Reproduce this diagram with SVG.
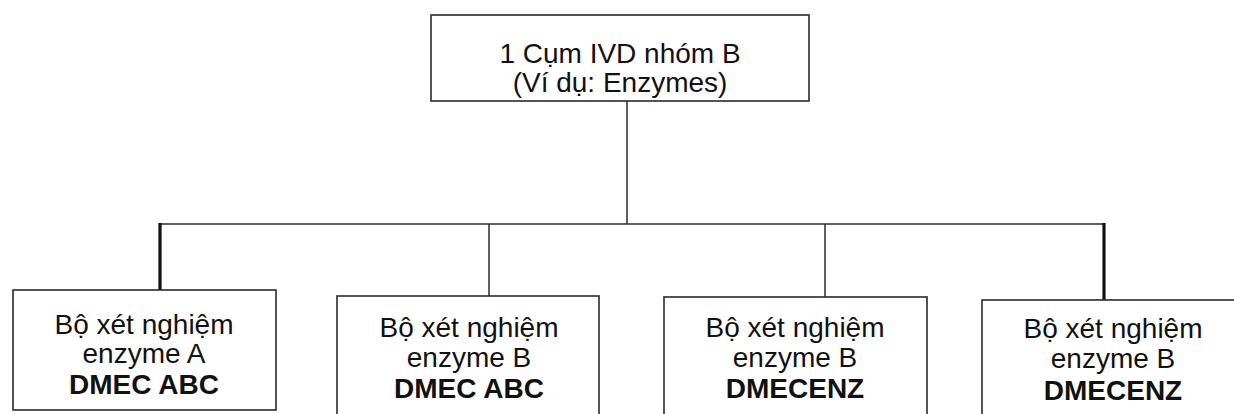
<svg xmlns="http://www.w3.org/2000/svg" width="1234" height="414" viewBox="0 0 1234 414">
  <style>
    .box { fill: #ffffff; stroke: #2a2a2a; stroke-width: 1.6; }
    .lbl { font-family: "Liberation Sans", Arial, sans-serif; font-size: 28px; fill: #111111; text-anchor: middle; }
    .b { font-weight: bold; }
    .thin { stroke: #2a2a2a; stroke-width: 1.5; fill: none; }
    .thick { stroke: #111111; stroke-width: 3.2; fill: none; }
  </style>
  <rect width="1234" height="414" fill="#ffffff"/>

  <!-- connectors -->
  <g id="connectors">
    <line class="thin" x1="627" y1="101" x2="627" y2="224"/>
    <line class="thin" x1="160" y1="224" x2="1104" y2="224"/>
    <line class="thick" x1="160" y1="223" x2="160" y2="290"/>
    <line class="thin" x1="489" y1="224" x2="489" y2="296"/>
    <line class="thin" x1="825" y1="224" x2="825" y2="297"/>
    <line class="thick" x1="1104" y1="223" x2="1104" y2="300"/>
  </g>

  <!-- parent group -->
  <g id="root">
    <rect class="box" x="431" y="15" width="378" height="86"/>
    <text class="lbl" x="620" y="63">1 Cụm IVD nhóm B</text>
    <text class="lbl" x="620" y="92">(Ví dụ: Enzymes)</text>
  </g>

  <g id="kit1">
    <rect class="box" x="13" y="290" width="263" height="120"/>
    <text class="lbl" x="144" y="334">Bộ xét nghiệm</text>
    <text class="lbl" x="144" y="363">enzyme A</text>
    <text class="lbl b" x="144" y="394">DMEC ABC</text>
  </g>

  <g id="kit2">
    <rect class="box" x="337" y="296" width="262" height="130"/>
    <text class="lbl" x="469" y="337">Bộ xét nghiệm</text>
    <text class="lbl" x="469" y="367">enzyme B</text>
    <text class="lbl b" x="469" y="398">DMEC ABC</text>
  </g>

  <g id="kit3">
    <rect class="box" x="664" y="297" width="263" height="130"/>
    <text class="lbl" x="795" y="337">Bộ xét nghiệm</text>
    <text class="lbl" x="795" y="367">enzyme B</text>
    <text class="lbl b" x="795" y="398">DMECENZ</text>
  </g>

  <g id="kit4">
    <rect class="box" x="982" y="300" width="262" height="130"/>
    <text class="lbl" x="1113" y="338">Bộ xét nghiệm</text>
    <text class="lbl" x="1113" y="368">enzyme B</text>
    <text class="lbl b" x="1113" y="400">DMECENZ</text>
  </g>
</svg>
